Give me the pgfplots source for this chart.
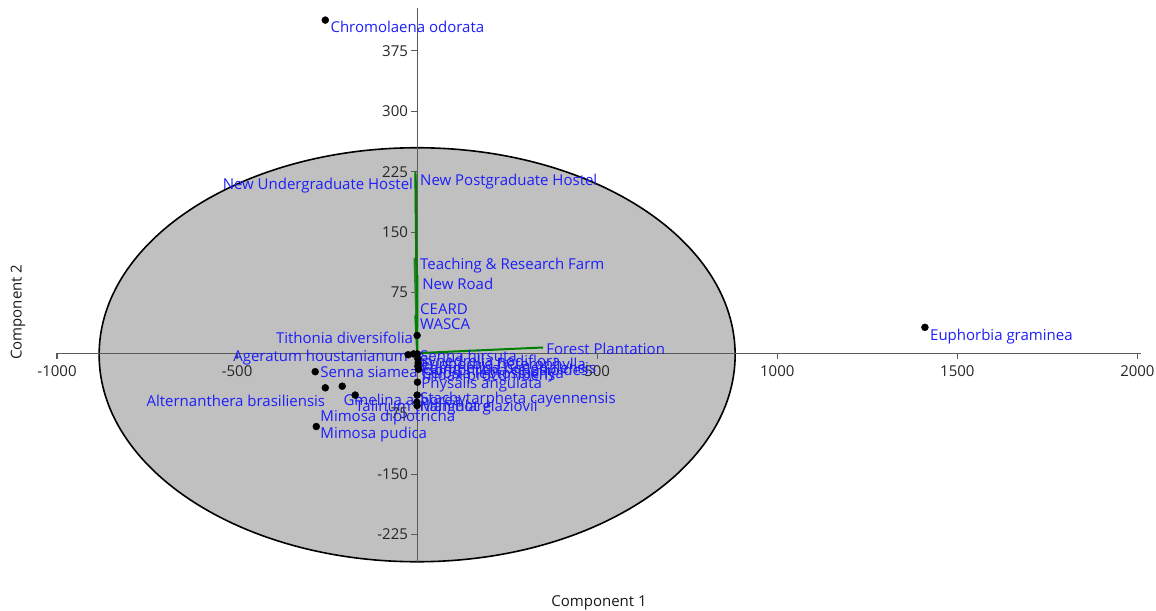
\documentclass[border=0pt]{standalone}
\usepackage{fontspec}
\setmainfont{Open Sans}
\usepackage{pgfplots}
\pgfplotsset{compat=1.18}
\definecolor{ellfill}{RGB}{192,192,192}
\definecolor{lblue}{RGB}{30,30,250}
\definecolor{vgreen}{RGB}{0,128,0}
\definecolor{axgray}{RGB}{90,90,90}
\begin{document}
\fontsize{15bp}{18bp}\selectfont
\begin{tikzpicture}
\begin{axis}[
 at={(0,0)}, anchor=south west,
 scale only axis, width=1084bp, height=554bp,
 xmin=-1000, xmax=2010, ymin=-259, ymax=428,
 axis lines=middle,
 axis line style={-, draw=axgray, line width=1.2bp},
 set layers,
 clip=false,
 xtick={-1000,-500,500,1000,1500,2000},
 ytick={-225,-150,-75,75,150,225,300,375},
 major tick length=0pt,
 /pgf/number format/1000 sep={},
 /pgf/number format/assume math mode=true,
 tick label style={font=\fontsize{15bp}{18bp}\selectfont, text=black!85},
 xticklabel style={yshift=-7bp},
 yticklabel style={xshift=-4bp},
 label style={font=\fontsize{15bp}{18bp}\selectfont, text=black!90},
 xlabel={Component 1}, ylabel={Component 2},
 xlabel style={at={(axis description cs:0.5,-0.074)}, anchor=center},
 ylabel style={at={(axis description cs:-0.036,0.451)}, anchor=center, rotate=90},
]
\begin{pgfonlayer}{axis background}
\draw[fill=ellfill, draw=black, line width=1.6bp] (axis cs:0,-2) ellipse [x radius=318bp, y radius=207bp];
\end{pgfonlayer}

% tick marks (x: 6bp = 7.4 units down; y: 6bp = 16.7 units left)
\addplot[axgray, line width=1.2bp, forget plot] coordinates {(-1000,0) (-1000,-7.4)};
\addplot[axgray, line width=1.2bp, forget plot] coordinates {(-500,0) (-500,-7.4)};
\addplot[axgray, line width=1.2bp, forget plot] coordinates {(500,0) (500,-7.4)};
\addplot[axgray, line width=1.2bp, forget plot] coordinates {(1000,0) (1000,-7.4)};
\addplot[axgray, line width=1.2bp, forget plot] coordinates {(1500,0) (1500,-7.4)};
\addplot[axgray, line width=1.2bp, forget plot] coordinates {(2000,0) (2000,-7.4)};
\addplot[axgray, line width=1.2bp, forget plot] coordinates {(0,-225) (-16.7,-225)};
\addplot[axgray, line width=1.2bp, forget plot] coordinates {(0,-150) (-16.7,-150)};
\addplot[axgray, line width=1.2bp, forget plot] coordinates {(0,-75) (-16.7,-75)};
\addplot[axgray, line width=1.2bp, forget plot] coordinates {(0,75) (-16.7,75)};
\addplot[axgray, line width=1.2bp, forget plot] coordinates {(0,150) (-16.7,150)};
\addplot[axgray, line width=1.2bp, forget plot] coordinates {(0,225) (-16.7,225)};
\addplot[axgray, line width=1.2bp, forget plot] coordinates {(0,300) (-16.7,300)};
\addplot[axgray, line width=1.2bp, forget plot] coordinates {(0,375) (-16.7,375)};

% biplot vectors
\addplot[vgreen, line width=2bp] coordinates {(0,0) (-5,225)};
\addplot[vgreen, line width=2bp] coordinates {(0,0) (-4,222)};
\addplot[vgreen!70!gray, line width=1.5bp] coordinates {(0,0) (-8,118)};
\addplot[vgreen, line width=2bp] coordinates {(0,0) (1,97)};
\addplot[vgreen, line width=2bp] coordinates {(0,0) (-5,47)};
\addplot[vgreen, line width=2bp] coordinates {(0,0) (0,41)};
\addplot[vgreen, line width=2bp] coordinates {(0,0) (350,7)};

% scores
\addplot[only marks, mark=*, mark size=3.5bp, black] coordinates {
(-255,413) (1410,32) (0,22) (-25,-2) (-10,-1) (0,-1) (2,-7) (3,-12) (2,-16) (4,-20)
(1,-36) (-283,-23) (-255,-43) (-208,-41) (-172,-52) (-280,-91) (0,-52) (-1,-61) (0,-65)
};

\begin{scope}[every node/.style={text=lblue, inner sep=0pt, font=\fontsize{15bp}{18bp}\selectfont}]
\node[anchor=west] at (axis cs:-241,404) {Chromolaena odorata};
\node[anchor=west] at (axis cs:1424,21) {Euphorbia graminea};
\node[anchor=west] at (axis cs:8,213) {New Postgraduate Hostel};
\node[anchor=east] at (axis cs:-11,208) {New Undergraduate Hostel};
\node[anchor=west] at (axis cs:8,109) {Teaching \& Research Farm};
\node[anchor=west] at (axis cs:14,86) {New Road};
\node[anchor=west] at (axis cs:8,55) {CEARD};
\node[anchor=west] at (axis cs:8,36) {WASCA};
\node[anchor=west] at (axis cs:358,5) {Forest Plantation};
\node[anchor=east] at (axis cs:-11,19) {Tithonia diversifolia};
\node[anchor=east] at (axis cs:-25,-5) {Ageratum houstanianum};
\node[anchor=west] at (axis cs:8,-3) {Senna hirsuta};
\node[anchor=west] at (axis cs:8,-12) {Synedrella nodiflora};
\node[anchor=west] at (axis cs:11,-16) {Euphorbia heterophylla};
\node[anchor=west] at (axis cs:8,-20) {Commelina benghalensis};
\node[anchor=west] at (axis cs:16,-23) {Gomphrena celosioides};
\node[anchor=west] at (axis cs:11,-27) {Celosia leptostachya};
\node[anchor=west] at (axis cs:8,-29) {Tridax procumbens};
\node[anchor=west] at (axis cs:-269,-24) {Senna siamea};
\node[anchor=east] at (axis cs:-255,-59) {Alternanthera brasiliensis};
\node[anchor=west] at (axis cs:-205,-58) {Gmelina arborea};
\node[anchor=west] at (axis cs:-269,-80) {Mimosa diplotricha};
\node[anchor=west] at (axis cs:-269,-101) {Mimosa pudica};
\node[anchor=west] at (axis cs:11,-39) {Physalis angulata};
\node[anchor=west] at (axis cs:8,-58) {Stachytarpheta cayennensis};
\node[anchor=west] at (axis cs:-172,-68) {Talinum triangulare};
\node[anchor=west] at (axis cs:8,-68) {Manihot glaziovii};
\end{scope}
\end{axis}
\pgfresetboundingbox
\path[use as bounding box] (-57bp,-49bp) rectangle (1099bp,562bp);
\end{tikzpicture}
\end{document}
